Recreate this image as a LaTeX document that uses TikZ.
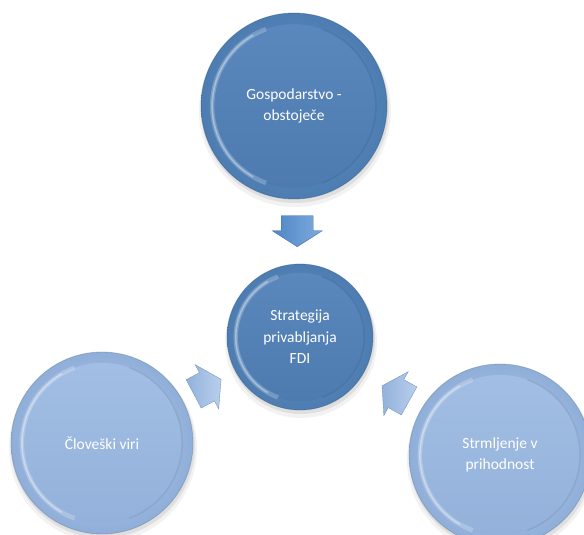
\documentclass[tikz,border=0pt]{standalone}
\usepackage{fontspec}
\setmainfont{Carlito}
\usetikzlibrary{calc,backgrounds}
\definecolor{dRimO}{HTML}{4C7CB1}
\definecolor{dRimI}{HTML}{6F98C8}
\definecolor{dTop}{HTML}{5A88BD}
\definecolor{dBot}{HTML}{4D7BB0}
\definecolor{lRimO}{HTML}{8FAED8}
\definecolor{lRimI}{HTML}{BCD2EE}
\definecolor{lTop}{HTML}{A2BEE4}
\definecolor{lBot}{HTML}{93B1DA}
\definecolor{aTop}{HTML}{7EABDD}
\definecolor{aBot}{HTML}{4F86C6}
\definecolor{sA}{HTML}{B9CFEC}
\definecolor{sB}{HTML}{92B2DB}
\newcommand\bevdisc[6]{%
  \fill[black,opacity=0.05] ($(#1)+(1,5)$) circle ({#2+3});
  \fill[black,opacity=0.08] ($(#1)+(1,3)$) circle ({#2+1});
  \shade[inner color=#4, outer color=#3] (#1) circle (#2);
  \draw[#3!70!black, opacity=0.4, line width=0.8pt] (#1) circle (#2);
  \shade[top color=#5, bottom color=#6] (#1) circle ({0.88*#2});
  \draw[white, opacity=0.22, line width=4.5pt] ($(#1)+(110:{0.88*#2})$) arc (110:250:{0.88*#2});
  \draw[white, opacity=0.35, line width=1.6pt] ($(#1)+(120:{0.88*#2})$) arc (120:240:{0.88*#2});
  \draw[#6!75!black, opacity=0.25, line width=1.5pt] ($(#1)+(-70:{0.88*#2})$) arc (-70:70:{0.88*#2});
}
\newcommand\blockarrow[5]{%
  \begin{scope}[shift={(#1)}, rotate=#2]
    \shade[left color=#4, right color=#3, draw=#4!85!black, line width=0.4pt]
      (-15,-16) -- (0,-16) -- (0,-25) -- (16,0) -- (0,25) -- (0,16) -- (-15,16) -- cycle;
  \end{scope}}
\tikzset{
  disc/.style={circle, inner sep=0pt, text=white, align=center,
    font=\fontsize{15.5}{21.5}\selectfont}
}
\begin{document}
\begin{tikzpicture}[x=1pt,y=-1pt]
\useasboundingbox (0,0) rectangle (584,535);
\node[disc, minimum size=186pt] (top) at (294,106) {Gospodarstvo -\\obstoječe};
\node[disc, minimum size=146pt] (mid) at (300,337) {Strategija\\privabljanja\\FDI};
\node[disc, minimum size=182pt] (lft) at (102,443) {Človeški viri};
\node[disc, minimum size=182pt] (rgt) at (500,455) {Strmljenje v\\prihodnost};
\begin{scope}[on background layer]
  \bevdisc{top}{93}{dRimO}{dRimI}{dTop}{dBot}
  \bevdisc{mid}{73}{dRimO}{dRimI}{dTop}{dBot}
  \bevdisc{lft}{91}{lRimO}{lRimI}{lTop}{lBot}
  \bevdisc{rgt}{91}{lRimO}{lRimI}{lTop}{lBot}
\end{scope}
\coordinate (a1) at ($(top.center)!0.54!(mid.center)$);
\coordinate (a2) at ($(lft.center)!0.53!(mid.center)$);
\coordinate (a3) at ($(rgt.center)!0.52!(mid.center)$);
\blockarrow{a1}{-90}{aTop}{aBot}{}
\blockarrow{a2}{28}{sA}{sB}{}
\blockarrow{a3}{151}{sA}{sB}{}
\end{tikzpicture}
\end{document}
